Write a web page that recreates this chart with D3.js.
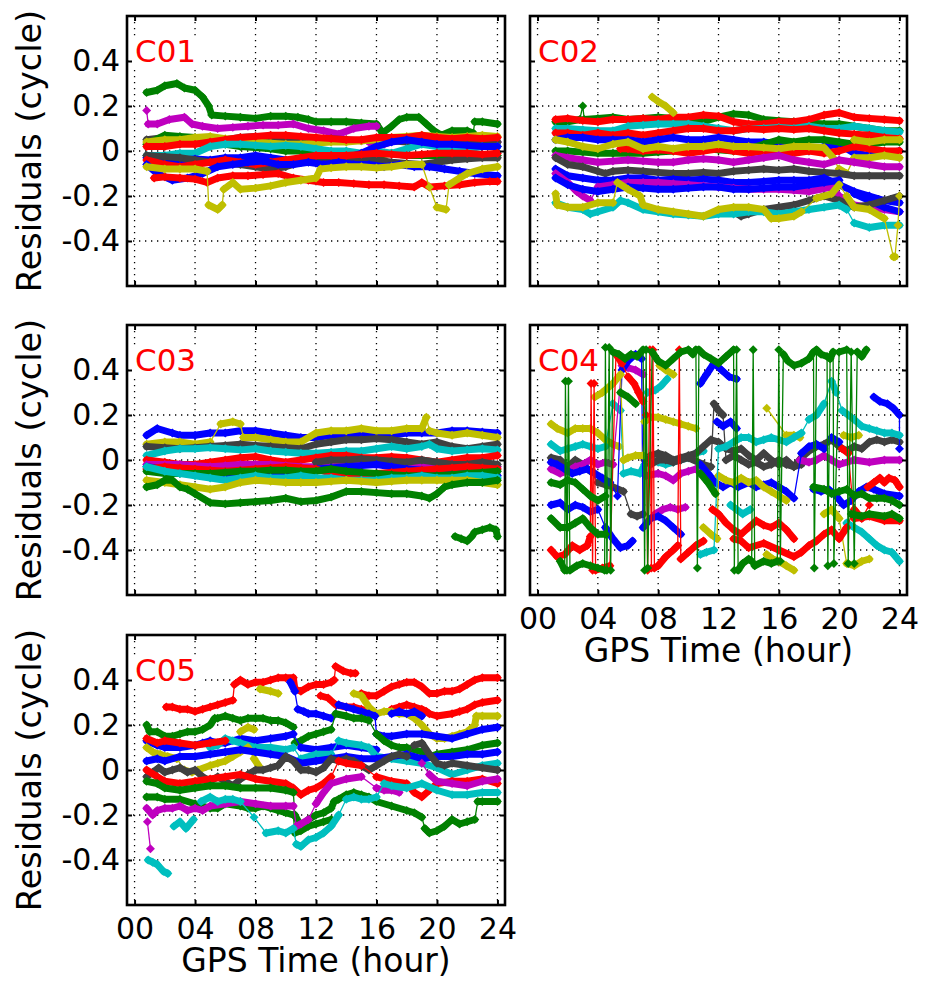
<!DOCTYPE html>
<html>
<head>
<meta charset="utf-8">
<script src="https://cdn.jsdelivr.net/npm/d3@7/dist/d3.min.js"></script>
<style>
  body { margin: 0; background: #fff; }
  svg { display: block; }
  text { font-family: "DejaVu Sans", Verdana, sans-serif; }
</style>
</head>
<body>
<svg id="fig" width="935" height="981"></svg>
<script>
// Axis ticks
const hourTicks = [0, 4, 8, 12, 16, 20, 24];
const hourLabels = ["00", "04", "08", "12", "16", "20", "24"];
const residualTicks = [-0.4, -0.2, 0, 0.2, 0.4];
const residualLabels = ["-0.4", "-0.2", "0", "0.2", "0.4"];

// Satellite colour codes
const lineColors = { b: "#0000ff", g: "#008000", r: "#ff0000", c: "#00bfbf", m: "#bf00bf", y: "#bfbf00", k: "#404040" };

// Residual series per satellite: [hour, residual in cycles]
const C01 = [
  { c: "g", p: [[0.8,0.26],[1.5,0.27],[2,0.29],[2.8,0.3],[3.3,0.28],[4,0.27],[4.5,0.24],[4.9,0.2],[5.1,0.16],[6,0.155],[7,0.15],[8,0.145],[9,0.155],[10,0.155],[10.8,0.15],[11.5,0.14],[12,0.13],[13,0.13],[14,0.13],[15,0.125],[16,0.12],[16.4,0.08],[17,0.11],[17.5,0.14],[18,0.15],[18.8,0.15],[19.3,0.12],[19.8,0.09],[20.3,0.07],[21,0.09],[22,0.09],[22.4,0.08],[22.5,0.13],[23,0.13],[24,0.12]] },
  { c: "m", p: [[0.8,0.18],[0.9,0.12],[1.5,0.12],[2.3,0.14],[3.3,0.15],[3.8,0.12],[4.5,0.11],[5.5,0.1],[6.5,0.105],[7.5,0.11],[8.5,0.115],[9.5,0.115],[10.5,0.12],[11.5,0.1],[12.5,0.09],[13.5,0.075],[14.5,0.1],[15.5,0.11],[16,0.11]] },
  { c: "m", p: [[15.5,0.04],[16.5,0.03],[17.5,0.05],[18.5,0.04],[19.5,0.03],[20.5,0.04],[21.5,0.05],[22.5,0.04],[24,0.04]] },
  { c: "k", p: [[0.8,0.05],[2,0.06],[3,0.055],[4,0.05],[5,0.045],[6,0.05],[7,0.06],[8,0.065],[9,0.06],[10,0.055],[11,0.05],[12,0.05],[13,0.055],[14,0.05],[15,0.045],[16,0.05],[17,0.045],[18,0.04],[19,0.05],[20,0.045],[21,0.04],[22,0.045],[23,0.04],[24,0.04]] },
  { c: "g", p: [[0.8,0.03],[2,0.07],[3,0.065],[4,0.06],[5,0.04],[6,0.03],[7,0.02],[8,0.015],[9,0.01],[10,0],[11,0],[12,-0.01],[13,-0.005],[14,-0.01],[15,-0.02],[16,-0.02],[17,-0.01],[18,-0.02],[19,-0.02],[20,-0.02],[21,-0.02],[22,-0.025],[23,-0.02],[24,-0.02]] },
  { c: "y", p: [[0.8,0.04],[2,0.05],[3,0.05],[4,0.06],[5,0.065],[6,0.055],[7,0.05],[8,0.04],[9,0.035],[10,0.03],[11,0.03],[12,0.035],[13,0.04],[14,0.04],[15,0.045],[16,0.05],[17,0.06],[18,0.065],[19,0.07],[20,0.065],[21,0.06],[22,0.065],[23,0.07],[24,0.065]] },
  { c: "r", p: [[0.8,0.02],[2,0.02],[3,0.03],[4,0.03],[5,0.04],[6,0.05],[7,0.06],[8,0.065],[9,0.07],[10,0.07],[11,0.065],[12,0.06],[13,0.055],[14,0.05],[15,0.05],[16,0.06],[17,0.06],[18,0.06],[19,0.07],[20,0.06],[21,0.055],[22,0.06],[23,0.055],[24,0.06]] },
  { c: "c", p: [[0.8,-0.02],[2,-0.02],[3,-0.01],[4,-0.01],[5,0.02],[6,0.03],[7,0.03],[8,0.025],[9,0.02],[10,0.025],[11,0.02],[12,0.01],[13,0],[14,0],[15,-0.01],[16,0],[17,-0.01],[18,0.01],[19,0.03],[20,0.02],[21,0],[22,0.01],[23,0.02],[24,0.02]] },
  { c: "b", p: [[0.8,-0.03],[2,-0.04],[3,-0.04],[4,-0.035],[5,-0.04],[6,-0.03],[7,-0.03],[8,-0.02],[9,-0.03],[10,-0.04],[11,-0.05],[12,-0.05],[13,-0.04],[14,-0.03],[15,-0.01],[16,0.02],[17,0.04],[18,0.05],[19,0.04],[20,0.03],[21,0.03],[22,0.025],[23,0.02],[24,0.02]] },
  { c: "k", p: [[0.8,-0.02],[2,-0.025],[3,-0.03],[4,-0.04],[5,-0.05],[6,-0.055],[7,-0.06],[8,-0.07],[9,-0.08],[10,-0.07],[11,-0.05],[12,-0.045],[13,-0.04],[14,-0.035],[15,-0.03],[16,-0.04],[17,-0.05],[18,-0.055],[19,-0.06],[20,-0.05],[21,-0.04],[22,-0.035],[23,-0.03],[24,-0.03]] },
  { c: "r", p: [[0.8,-0.04],[2,-0.06],[3,-0.07],[4,-0.06],[5,-0.05],[6,-0.04],[7,-0.05],[8,-0.06],[9,-0.05],[10,-0.04],[11,-0.03],[12,-0.02],[13,-0.02],[14,-0.02],[15,-0.015],[16,-0.01],[17,-0.015],[18,-0.02],[19,-0.015],[20,-0.01],[21,-0.01],[22,-0.01],[23,-0.015],[24,-0.01]] },
  { c: "b", p: [[0.8,-0.06],[1.5,-0.1],[2.5,-0.13],[3.5,-0.12],[4.5,-0.1],[5.5,-0.07],[6.5,-0.06],[7.5,-0.05],[8.5,-0.045],[9.5,-0.06],[10.5,-0.06],[11.5,-0.05],[12.5,-0.06],[13.5,-0.05],[14.5,-0.06],[15.5,-0.06],[16.5,-0.07],[17.5,-0.06],[18.5,-0.07],[19.5,-0.07],[20.5,-0.08],[21.5,-0.09],[22.5,-0.1],[24,-0.11]] },
  { c: "r", p: [[1.3,-0.12],[2,-0.115],[3,-0.12],[4,-0.125],[4.8,-0.14],[5.5,-0.12],[6.5,-0.11],[7.5,-0.11],[8.5,-0.105],[9.5,-0.1],[10.5,-0.12],[11.5,-0.13],[12.5,-0.14],[13.5,-0.14],[14.5,-0.145],[15.5,-0.15],[16.5,-0.15],[17.5,-0.155],[18.5,-0.16],[19,-0.14],[19.5,-0.16],[20.5,-0.155],[21.5,-0.15],[22.5,-0.14],[23.5,-0.135],[24,-0.135]] },
  { c: "y", p: [[0.8,-0.07],[2,-0.08],[3,-0.08],[4,-0.08],[4.8,-0.09],[4.9,-0.24],[5.5,-0.26],[5.8,-0.24],[5.9,-0.17],[6.5,-0.14],[7,-0.17],[8,-0.165],[9,-0.155],[10,-0.14],[11,-0.13],[12,-0.12],[12.3,-0.08],[13,-0.075],[14,-0.07],[15,-0.07],[16,-0.075],[17,-0.07],[18,-0.06],[19,-0.06],[19.5,-0.16],[20,-0.25],[20.6,-0.26],[20.8,-0.15],[21.5,-0.12],[22,-0.1],[23,-0.08],[24,-0.07]] }
];

const C02 = [
  { c: "g", p: [[1.2,0.13],[2,0.13],[2.8,0.14],[3,0.2],[3.1,0.14],[4,0.145],[5,0.15],[6,0.14],[7,0.145],[8,0.15],[9,0.145],[10,0.14],[11,0.13],[12,0.15],[13,0.165],[14,0.16],[15,0.14],[16,0.135],[17,0.13],[18,0.125],[19,0.12],[20,0.12],[21,0.11],[22,0.1],[23,0.09],[24,0.09]] },
  { c: "r", p: [[1.2,0.14],[2,0.145],[3,0.135],[4,0.13],[5,0.14],[6,0.14],[7,0.145],[8,0.14],[9,0.15],[10,0.15],[11,0.16],[12,0.155],[13,0.13],[14,0.12],[15,0.12],[16,0.13],[17,0.13],[18,0.14],[19,0.16],[20,0.17],[21,0.15],[22,0.145],[23,0.14],[24,0.135]] },
  { c: "c", p: [[1.2,0.1],[2,0.1],[3,0.095],[4,0.09],[5,0.09],[6,0.11],[7,0.115],[8,0.12],[9,0.12],[10,0.12],[11,0.11],[12,0.1],[13,0.09],[14,0.1],[15,0.1],[16,0.105],[17,0.1],[18,0.11],[19,0.1],[20,0.1],[21,0.11],[22,0.1],[23,0.09],[24,0.085]] },
  { c: "r", p: [[1.2,0.08],[2,0.08],[3,0.07],[4,0.08],[5,0.07],[6,0.08],[7,0.07],[8,0.08],[9,0.09],[10,0.1],[11,0.1],[12,0.09],[13,0.09],[14,0.1],[15,0.095],[16,0.1],[17,0.095],[18,0.1],[19,0.09],[20,0.08],[21,0.075],[22,0.07],[23,0.06],[24,0.055]] },
  { c: "b", p: [[1.2,0.05],[2,0.06],[3,0.06],[4,0.05],[5,0.05],[6,0.05],[7,0.04],[8,0.05],[9,0.06],[10,0.05],[11,0.05],[12,0.06],[13,0.05],[14,0.04],[15,0.04],[16,0.03],[17,0.01],[18,0],[19,0.02],[20,0.03],[21,-0.01],[22,-0.02],[23,-0.01],[24,0]] },
  { c: "g", p: [[1.2,0],[2,0],[3,-0.005],[4,-0.01],[5,-0.01],[6,-0.01],[7,-0.01],[8,-0.005],[9,0],[10,0.01],[11,0.01],[12,0.005],[13,0],[14,0.01],[15,0.03],[16,0.05],[17,0.04],[18,0.05],[19,0.05],[20,0.04],[21,0.03],[22,0.03],[23,0.04],[24,0.04]] },
  { c: "r", p: [[5.5,0.01],[6,0.01],[7,0],[8,0.005],[9,0],[10,-0.01],[11,0],[12,0.01],[13,0],[14,-0.01],[15,0],[16,0],[17,-0.01],[18,0],[19,-0.01],[20,0],[21,0.02],[22,0.01],[23,0],[24,0]] },
  { c: "y", p: [[1.2,0.05],[2,0.04],[3,0.02],[4,0.01],[5,0.03],[6,0.04],[7,0.01],[8,0.02],[9,0.01],[10,0.02],[11,0.02],[12,0.03],[13,0.02],[14,0.02],[15,0.015],[16,0.01],[17,0.02],[18,0.02],[19,0.015],[19.6,-0.03],[20,-0.08],[20.5,-0.1],[21,-0.03],[22,-0.03],[23,-0.02],[24,-0.03]] },
  { c: "y", p: [[21,0.05],[22,0.04],[23,0.05],[24,0.05]] },
  { c: "m", p: [[1.2,-0.02],[2,-0.03],[3,-0.04],[4,-0.05],[5,-0.045],[6,-0.04],[7,-0.045],[8,-0.05],[9,-0.05],[10,-0.04],[11,-0.035],[12,-0.04],[13,-0.05],[14,-0.04],[15,-0.03],[16,-0.02],[17,-0.04],[18,-0.05],[19,-0.06],[20,-0.04],[21,-0.05],[22,-0.06],[23,-0.07],[24,-0.07]] },
  { c: "k", p: [[1.2,-0.03],[2,-0.06],[3,-0.07],[4,-0.09],[4.5,-0.1],[5,-0.09],[6,-0.085],[7,-0.09],[8,-0.095],[9,-0.1],[10,-0.1],[11,-0.095],[12,-0.1],[13,-0.09],[14,-0.085],[15,-0.08],[16,-0.085],[17,-0.08],[18,-0.09],[19,-0.095],[20,-0.1],[21,-0.11],[22,-0.11],[23,-0.11],[24,-0.11]] },
  { c: "b", p: [[1.2,-0.08],[2,-0.11],[3,-0.12],[4,-0.13],[5,-0.13],[6,-0.12],[7,-0.12],[8,-0.13],[9,-0.125],[10,-0.13],[11,-0.125],[12,-0.13],[13,-0.14],[14,-0.14],[15,-0.135],[16,-0.13],[17,-0.13],[18,-0.13],[19,-0.12],[20,-0.15],[21,-0.18],[22,-0.2],[23,-0.22],[24,-0.23]] },
  { c: "m", p: [[1.2,-0.1],[2,-0.14],[2.6,-0.18],[3,-0.2],[3.5,-0.22],[4,-0.16],[5,-0.15],[6,-0.14],[7,-0.14],[8,-0.14],[9,-0.145],[10,-0.15],[11,-0.155],[12,-0.16],[13,-0.165],[14,-0.17],[15,-0.17],[16,-0.17],[17,-0.175],[18,-0.18],[19.5,-0.16],[20,-0.2],[21,-0.24],[22,-0.25],[23,-0.26],[24,-0.27]] },
  { c: "b", p: [[1.2,-0.12],[2,-0.15],[3,-0.17],[4,-0.18],[5,-0.17],[6,-0.16],[7,-0.165],[8,-0.17],[9,-0.17],[10,-0.165],[11,-0.16],[12,-0.16],[13,-0.17],[14,-0.17],[15,-0.165],[16,-0.16],[17,-0.16],[18,-0.15],[19,-0.14],[20,-0.13],[21,-0.19],[22,-0.22],[23,-0.25],[24,-0.27]] },
  { c: "k", p: [[13,-0.27],[13.5,-0.29],[14,-0.28],[15,-0.26],[16,-0.25],[17,-0.24],[18,-0.22],[19,-0.2],[20,-0.22],[21,-0.25],[22,-0.24],[23,-0.22],[24,-0.2]] },
  { c: "c", p: [[1.2,-0.23],[2,-0.25],[3,-0.26],[3.5,-0.28],[4,-0.27],[5,-0.25],[5.5,-0.22],[6,-0.23],[7,-0.26],[8,-0.27],[9,-0.28],[10,-0.285],[11,-0.29],[12,-0.28],[13,-0.28],[14,-0.27],[15,-0.27],[16,-0.28],[17,-0.27],[18,-0.26],[19,-0.25],[20,-0.24],[20.5,-0.26],[21,-0.32],[22,-0.34],[23,-0.33],[24,-0.33]] },
  { c: "y", p: [[1.2,-0.19],[1.3,-0.24],[2,-0.25],[3,-0.25],[4,-0.23],[5,-0.23],[5.3,-0.14],[6,-0.17],[6.8,-0.2],[7,-0.24],[8,-0.26],[9,-0.27],[10,-0.28],[11,-0.29],[12,-0.26],[13,-0.25],[14,-0.25],[15,-0.26],[15.5,-0.3],[16,-0.3],[17,-0.29],[17.5,-0.27],[18.5,-0.21],[19.5,-0.19],[20,-0.15],[20.5,-0.2],[21,-0.25],[22,-0.26],[23,-0.3],[23.6,-0.47],[23.7,-0.47],[23.9,-0.33],[24,-0.2]] },
  { c: "y", p: [[7.6,0.24],[8,0.22],[8.5,0.2],[9,0.17]] }
];

const C03 = [
  { c: "b", p: [[0.8,0.11],[1.5,0.14],[2.5,0.12],[3,0.11],[4,0.11],[5,0.12],[6,0.12],[7,0.13],[8,0.13],[9,0.12],[10,0.11],[11,0.1],[12,0.1],[13,0.11],[14,0.11],[15,0.12],[16,0.115],[17,0.11],[18,0.12],[19,0.12],[20,0.12],[21,0.13],[22,0.13],[23,0.125],[24,0.12]] },
  { c: "y", p: [[0.8,0.07],[2,0.08],[3,0.08],[4,0.07],[5,0.08],[5.7,0.16],[6.5,0.17],[7,0.16],[7.2,0.1],[8,0.1],[9,0.09],[10,0.08],[11,0.08],[12,0.12],[13,0.13],[14,0.13],[15,0.14],[16,0.13],[17,0.13],[18,0.14],[19,0.14],[19.3,0.19],[19.5,0.13],[20,0.12],[21,0.11],[22,0.12],[23,0.11],[24,0.1]] },
  { c: "k", p: [[0.8,0.06],[2,0.055],[3,0.05],[4,0.055],[5,0.06],[6,0.065],[7,0.07],[8,0.065],[9,0.06],[10,0.055],[11,0.05],[12,0.07],[13,0.08],[14,0.09],[15,0.09],[16,0.095],[17,0.09],[18,0.08],[19,0.07],[20,0.08],[21,0.06],[22,0.05],[23,0.06],[24,0.07]] },
  { c: "c", p: [[0.8,0.02],[2,0.04],[3,0.05],[4,0.05],[5,0.055],[6,0.05],[7,0.045],[8,0.05],[9,0.04],[10,0.035],[11,0.03],[12,0.03],[13,0.035],[14,0.04],[15,0.04],[16,0.05],[17,0.06],[18,0.05],[19,0.06],[19.5,0.07],[20,0.05],[21,0.04],[22,0.045],[23,0.05],[24,0.045]] },
  { c: "r", p: [[0.8,0],[2,-0.01],[3,-0.02],[4,-0.02],[5,-0.01],[6,0],[7,0.01],[8,0.015],[9,0],[10,-0.01],[11,0],[12,0.01],[13,0.02],[14,0.02],[15,0.01],[16,0.01],[17,0.015],[18,0.01],[19,0],[20,-0.01],[21,0],[22,0.01],[23,0.01],[24,0.02]] },
  { c: "m", p: [[0.8,-0.02],[2,-0.02],[3,-0.02],[4,-0.025],[5,-0.03],[6,-0.025],[7,-0.02],[8,-0.02],[9,-0.02],[10,-0.025],[11,-0.03],[12,-0.03],[13,-0.03],[14,-0.025],[15,-0.02],[16,-0.02],[17,-0.02],[18,-0.02],[19,-0.02],[20,-0.02],[21,-0.02],[22,-0.025],[23,-0.03],[24,-0.03]] },
  { c: "k", p: [[12,-0.01],[13,0],[14,0],[15,0.005],[16,0],[17,-0.005],[18,-0.01],[19,0],[20,-0.01],[21,-0.02],[22,-0.02],[23,-0.01],[24,-0.02]] },
  { c: "b", p: [[0.8,-0.03],[2,-0.04],[3,-0.045],[4,-0.05],[5,-0.055],[6,-0.06],[7,-0.055],[8,-0.05],[9,-0.055],[10,-0.06],[11,-0.05],[12,-0.04],[13,-0.035],[14,-0.03],[15,-0.025],[16,-0.02],[17,-0.03],[18,-0.04],[19,-0.045],[20,-0.05],[21,-0.055],[22,-0.06],[23,-0.065],[24,-0.07]] },
  { c: "r", p: [[0.8,-0.04],[2,-0.03],[3,-0.035],[4,-0.04],[5,-0.045],[6,-0.05],[7,-0.045],[8,-0.04],[9,-0.035],[10,-0.03],[11,-0.035],[12,-0.04],[13,-0.06],[14,-0.07],[15,-0.065],[16,-0.06],[17,-0.055],[18,-0.05],[19,-0.045],[20,-0.04],[21,-0.035],[22,-0.03],[23,-0.035],[24,-0.04]] },
  { c: "g", p: [[0.8,-0.05],[2,-0.06],[3,-0.06],[4,-0.06],[5,-0.06],[6,-0.055],[7,-0.05],[8,-0.05],[9,-0.045],[10,-0.045],[11,-0.05],[12,-0.05],[13,-0.04],[14,-0.05],[15,-0.055],[16,-0.06],[17,-0.065],[18,-0.07],[19,-0.07],[20,-0.07],[21,-0.065],[22,-0.06],[23,-0.055],[24,-0.05]] },
  { c: "c", p: [[0.8,-0.03],[2,-0.05],[3,-0.06],[4,-0.07],[5,-0.08],[6,-0.09],[7,-0.08],[8,-0.07],[9,-0.08],[10,-0.08],[11,-0.07],[12,-0.08],[13,-0.08],[14,-0.09],[15,-0.09],[16,-0.09],[17,-0.08],[18,-0.08],[19,-0.07],[20,-0.08],[21,-0.08],[22,-0.07],[23,-0.07],[24,-0.08]] },
  { c: "y", p: [[0.8,-0.09],[2,-0.1],[3,-0.11],[4,-0.12],[5,-0.13],[6,-0.12],[7,-0.1],[8,-0.09],[9,-0.095],[10,-0.1],[11,-0.1],[12,-0.1],[13,-0.095],[14,-0.09],[15,-0.095],[16,-0.1],[17,-0.095],[18,-0.09],[19,-0.09],[20,-0.09],[21,-0.09],[22,-0.09],[23,-0.1],[24,-0.11]] },
  { c: "g", p: [[0.8,-0.12],[1.5,-0.11],[2,-0.09],[2.5,-0.09],[3,-0.12],[3.5,-0.13],[4,-0.15],[5,-0.19],[6,-0.195],[7,-0.19],[8,-0.185],[9,-0.18],[10,-0.17],[11,-0.185],[12,-0.18],[13,-0.165],[14,-0.14],[15,-0.14],[16,-0.145],[17,-0.15],[18,-0.15],[19,-0.16],[19.5,-0.17],[20,-0.15],[20.5,-0.12],[21,-0.11],[22,-0.1],[23,-0.1],[24,-0.09]] },
  { c: "g", p: [[21.2,-0.34],[21.6,-0.35],[22,-0.36],[22.3,-0.34],[22.5,-0.32],[23,-0.31],[23.5,-0.3],[23.9,-0.31],[24,-0.34]] }
];

const C04 = [
  { c: "y", p: [[0.9,0.16],[1.3,0.14],[2,0.12],[2.5,0.14],[3,0.14],[3.5,0.14],[4,0.12],[4.5,0.09],[5,0.07],[5.4,0.06]] },
  { c: "c", p: [[0.9,0.07],[1.5,0.04],[2,0.05],[2.5,0.06],[3,0.07],[3.5,0.06],[4,0.05],[4.5,0.06],[5,0.25],[5.5,0.22],[5.7,-0.06],[6.2,-0.05],[6.8,-0.06],[7.1,-0.02],[7.5,0],[8,-0.01],[8.5,-0.02],[9,-0.01],[9.5,0],[10,0.01],[10.5,0.03],[11,0.04]] },
  { c: "k", p: [[0.9,0.01],[1.5,0],[2,-0.03],[2.5,0],[3,-0.02],[3.5,-0.05],[4,-0.1],[4.5,-0.11],[5,-0.12],[5.7,-0.14],[6.2,-0.24],[6.6,-0.25],[7,-0.24],[7.1,0],[7.5,0.02],[8,0.03],[8.5,0.02],[9,0],[9.5,0.01],[10,0.02],[10.5,0.03],[11,0.06],[11.5,0.09],[12,0.08],[12.5,0.05],[13,0.04],[13.5,0.05],[14,0.02],[14.5,0],[15,0.03],[15.5,0],[16,-0.02],[16.5,0],[17,-0.03],[17.5,0.01],[18,0.04],[18.5,0.06],[19,0.07],[19.5,0.09],[20,0.06],[20.5,0.04],[21,0.06],[21.5,0.05],[22,0.08],[22.5,0.09],[23,0.08],[23.5,0.09],[24,0.08]] },
  { c: "k", p: [[7.5,-0.02],[8,0],[8.5,0],[9,-0.01],[9.5,0],[10,0.01],[11,-0.02],[11.5,-0.03],[11.7,0.25],[12,0.22],[12.3,0.2],[12.5,0],[13,0.02],[13.5,0],[14,-0.02],[14.5,-0.01],[15,-0.03],[15.5,-0.02],[16,0],[16.5,-0.02],[17,-0.03],[17.5,-0.02]] },
  { c: "m", p: [[0.9,-0.04],[1.5,-0.06],[2,-0.05],[2.5,-0.03],[3,-0.02],[3.5,0],[4,-0.02],[4.5,-0.01],[5,-0.02],[5.6,0.42],[6,0.41],[6.5,0.4],[7,0.38],[7.2,-0.07],[8,-0.06],[8.5,-0.07],[9,-0.09],[9.5,-0.06],[10,-0.05],[10.5,-0.04]] },
  { c: "m", p: [[7.8,-0.24],[8.3,-0.22],[8.8,-0.21],[9.3,-0.22],[9.8,-0.21]] },
  { c: "m", p: [[17.4,0],[18,-0.01],[18.5,0],[19,0.02],[19.5,0],[20,-0.02],[21,0],[22,-0.01],[23,0],[24,0]] },
  { c: "b", p: [[0.9,-0.01],[1.3,-0.02],[1.8,-0.04],[2.3,-0.06],[2.8,-0.05],[3.3,-0.04],[3.8,-0.06],[4.3,-0.08],[4.8,-0.1],[5.3,-0.16],[5.6,0.4],[6,0.44],[6.5,0.47],[6.9,0.45],[7,-0.3],[7.5,-0.26],[8,-0.25],[8.5,-0.27],[9,-0.3],[9.5,-0.33]] },
  { c: "b", p: [[0.9,-0.2],[1.5,-0.19],[2,-0.22],[2.5,-0.2],[3,-0.21],[3.5,-0.23],[4,-0.22],[4.5,-0.3],[5,-0.35],[5.5,-0.39],[6,-0.38],[6.3,-0.36]] },
  { c: "b", p: [[10.8,0.34],[11.2,0.38],[11.7,0.43],[12.2,0.4],[12.7,0.37],[13.2,0.36]] },
  { c: "b", p: [[11.9,0.17],[12.3,0.15],[12.8,0.17],[13.2,0.14]] },
  { c: "b", p: [[10.8,-0.02],[11.3,-0.06],[11.8,-0.1],[12.3,-0.12],[12.8,-0.1],[13.3,-0.12],[14,-0.1],[14.5,-0.12],[15,-0.11],[15.5,-0.1],[16,-0.12],[16.5,-0.14],[17,-0.17],[17.5,0.03],[18,0.06],[18.5,0.07],[19,0.05],[19.5,0.1],[20,0.08]] },
  { c: "b", p: [[18.3,-0.13],[18.8,-0.14],[19.3,-0.13],[19.8,-0.16],[20.3,-0.2],[20.8,-0.18],[21.3,-0.14],[21.8,-0.12],[22.3,-0.13],[23,-0.15],[24,-0.16]] },
  { c: "b", p: [[22.3,0.28],[22.7,0.26],[23.2,0.25],[23.6,0.23],[24,0.2],[24,0.05]] },
  { c: "y", p: [[3.8,0.28],[4.3,0.3],[5,0.34],[5.5,0.38],[5.7,0],[6,0.01],[6.5,0.02],[7,0.02],[7.1,0.17],[7.5,0.19],[8,0.19],[8.5,0.18],[9,0.17],[9.5,0.16],[10,0.15],[10.5,0.14]] },
  { c: "y", p: [[8.1,0.42],[8.5,0.4],[9,0.38]] },
  { c: "y", p: [[11,-0.3],[11.5,-0.33],[11.9,-0.35],[12,-0.07],[12.5,-0.09],[13,-0.1],[13.5,-0.08],[14,-0.1],[14.5,-0.09],[15,-0.12],[15.5,-0.14],[16,-0.16],[16.5,-0.18]] },
  { c: "y", p: [[15.2,0.23],[16.5,0.11],[17,0.11],[17.4,0.1]] },
  { c: "y", p: [[15.2,-0.42],[15.6,-0.44],[16,-0.45],[16.5,-0.47],[17,-0.49]] },
  { c: "y", p: [[19,-0.24],[19.5,-0.22],[20,-0.26],[20.5,-0.46],[21,-0.47],[21.5,-0.45],[22,-0.44]] },
  { c: "y", p: [[20.3,0.11],[20.8,0.1],[21.3,0.11]] },
  { c: "c", p: [[7.3,0.3],[7.8,0.31],[8.2,0.33],[8.6,0.36]] },
  { c: "c", p: [[10.8,-0.42],[11.2,-0.41],[11.7,-0.4],[12,0.05],[12.5,0.06],[13,0.08],[13.5,0.1],[14,0.1],[14.5,0.08],[15,0.09],[15.5,0.1],[16,0.09],[16.5,0.08],[17,0.1],[17.5,0.12],[18,0.18],[18.5,0.2],[19,0.25],[19.5,0.35],[19.8,0.3],[20.2,0.22],[20.6,0.2],[21,0.18],[21.5,0.15],[22,0.14],[22.5,0.13],[23,0.12],[23.5,0.12],[24,0.11]] },
  { c: "c", p: [[12.8,-0.2],[13.2,-0.22],[13.6,-0.24],[14.1,-0.22]] },
  { c: "c", p: [[20.5,-0.28],[21,-0.3],[21.5,-0.32],[22,-0.35],[22.5,-0.38],[23,-0.4],[23.5,-0.41],[24,-0.45]] },
  { c: "r", p: [[0.9,-0.4],[1.3,-0.43],[1.8,-0.42],[2.3,-0.38],[2.8,-0.4],[3.3,-0.38],[3.5,-0.34],[3.55,0.34],[3.65,-0.49],[3.75,0.34],[3.85,-0.49],[4.3,-0.48],[4.8,-0.47],[5.2,0.47],[5.6,0.43],[6,0.37],[6.4,0.34],[6.7,0.3],[7,0.26],[7.2,0.2],[7.3,-0.49],[7.45,0.49],[7.55,-0.48],[7.65,0.49],[7.75,-0.48],[8,-0.47],[8.5,-0.43],[9,-0.4],[9.3,-0.38],[9.4,0.49],[9.5,-0.44],[10,-0.41],[10.5,-0.38],[11,-0.36]] },
  { c: "r", p: [[11.6,-0.22],[12,-0.24],[12.5,-0.28],[13,-0.31],[13.5,-0.33],[14,-0.3],[14.5,-0.27],[15,-0.29],[15.5,-0.3],[16,-0.28],[16.5,-0.31],[17,-0.35]] },
  { c: "r", p: [[13,-0.35],[13.5,-0.36],[14,-0.39],[15,-0.37],[16,-0.4],[17,-0.43],[17.5,-0.41],[18,-0.38],[18.5,-0.36],[19,-0.33],[19.5,-0.31],[20,-0.35],[20.5,-0.3],[21,-0.22],[21.5,-0.26],[22,-0.2]] },
  { c: "r", p: [[20.2,0.05],[20.6,0.03],[21,-0.26],[22,-0.25],[23,-0.27],[24,-0.27]] },
  { c: "r", p: [[21.9,-0.12],[22.3,-0.1],[22.7,-0.08],[23,-0.1],[23.3,-0.08],[23.7,-0.09],[24,-0.12]] },
  { c: "g", p: [[0.9,-0.1],[1.5,-0.11],[2,-0.09],[2.5,-0.1],[3,-0.13],[3.5,-0.16],[4,-0.18],[4.5,-0.16]] },
  { c: "g", p: [[0.9,-0.26],[1.5,-0.3],[2,-0.3],[2.5,-0.28],[3,-0.26],[3.5,-0.3],[4,-0.33],[4.5,-0.33]] },
  { c: "g", p: [[5.5,0.3],[6,0.28],[6.5,0.25]] },
  { c: "g", p: [[10.8,-0.06],[11.3,-0.1],[11.8,-0.15]] },
  { c: "g", p: [[18.3,-0.12],[19,-0.13],[19.5,-0.15],[20,-0.14],[20.5,-0.13],[21,-0.16],[21.5,-0.15],[22,-0.17],[22.5,-0.17],[23,-0.17],[23.5,-0.18],[24,-0.2]] },
  { c: "g", p: [[20.8,-0.24],[21.5,-0.25],[22,-0.24],[23,-0.25],[23.5,-0.24],[24,-0.26]] },
  { c: "g", p: [[1.5,-0.45],[1.8,-0.49],[1.85,0.35],[1.95,-0.49],[2.05,0.35],[2.15,-0.49],[2.6,-0.47],[3,-0.46],[3.5,-0.47],[4,-0.48],[4.45,-0.49],[4.5,0.5],[4.6,-0.49],[4.75,0.5],[4.85,-0.49],[5,0.48],[5.4,0.47],[5.8,0.45],[6.2,0.47],[6.6,0.46],[7,0.49],[7.1,-0.49],[7.2,0.49],[7.3,-0.48],[7.6,0.48],[8,0.44],[8.5,0.42],[9,0.45],[9.5,0.48],[10,0.49],[10.3,0.47],[10.5,0.49],[10.6,-0.48],[10.7,0.49],[11,0.47],[11.5,0.45],[12,0.43],[12.5,0.46],[13,0.49],[13.05,-0.49],[13.2,0.49],[13.3,-0.49],[13.6,-0.46],[14,-0.44],[14.2,-0.45],[14.3,0.49],[14.4,-0.47],[15,-0.45],[15.5,-0.46],[15.9,-0.45],[16,0.49],[16.1,-0.45],[16.3,0.47],[16.6,0.44],[17,0.42],[17.5,0.43],[18,0.45],[18.3,0.48],[18.35,-0.48],[18.5,0.49],[18.8,0.47],[19.2,0.46],[19.25,-0.47],[19.4,0.45],[19.6,0.48],[19.65,-0.46],[20,0.48],[20.5,0.49],[20.6,-0.46],[20.8,0.48],[21,-0.46],[21.2,0.48],[21.5,0.46],[21.8,0.49]] }
];

const C05 = [
  { c: "r", p: [[2.1,0.28],[2.5,0.28],[3,0.27],[3.5,0.27],[4,0.26],[4.5,0.27],[5,0.28],[5.5,0.29],[6,0.3],[6.5,0.31],[6.6,0.38],[7,0.4],[7.5,0.38],[8,0.39],[8.5,0.39],[9,0.4],[9.5,0.41],[10,0.41],[10.5,0.41],[10.6,0.36],[11,0.35],[11.5,0.37],[12,0.38],[12.5,0.38],[13,0.39],[13.2,0.4],[13.3,0.46],[13.8,0.44],[14.3,0.43],[14.6,0.43]] },
  { c: "r", p: [[15,0.34],[15.5,0.33],[16,0.33],[16.5,0.35],[17,0.37],[17.5,0.38],[18,0.39],[18.5,0.39],[19,0.37],[19.5,0.34],[20,0.34],[20.5,0.35],[21,0.35],[21.5,0.36],[22,0.38],[22.5,0.4],[23,0.41],[24,0.41]] },
  { c: "r", p: [[12.3,0.33],[12.8,0.32],[13.3,0.29],[14,0.28],[14.5,0.28],[15,0.27],[15.5,0.26]] },
  { c: "r", p: [[17,0.27],[17.5,0.28],[18,0.29],[18.5,0.28],[19,0.27],[19.3,0.26],[19.5,0.25],[20,0.24],[21,0.25],[21.5,0.26],[22,0.27],[22.5,0.29],[23,0.3],[24,0.31]] },
  { c: "y", p: [[8.3,0.36],[9,0.35],[9.5,0.34]] },
  { c: "y", p: [[14.5,0.34],[15,0.33],[15.5,0.28],[16,0.25],[16.5,0.26],[17,0.26],[17.5,0.25],[18,0.25],[18.5,0.23],[19,0.2],[19.5,0.16],[20,0.14],[20.5,0.14],[21,0.15],[21.5,0.16],[22,0.17],[22.5,0.2],[22.6,0.24],[23,0.24],[24,0.24]] },
  { c: "b", p: [[10.3,0.39],[10.6,0.35],[10.8,0.27],[11.2,0.26],[11.5,0.25],[12,0.25],[12.5,0.24],[13,0.23],[13.5,0.29],[14,0.28],[14.5,0.27],[15,0.26],[15.5,0.25],[15.9,0.24],[16,0.16],[16.5,0.15],[17,0.15],[18,0.16],[19,0.16],[20,0.15],[21,0.14],[22,0.16],[23,0.18],[24,0.19]] },
  { c: "b", p: [[17,0.25],[17.5,0.26],[18,0.25],[18.5,0.26],[19,0.24]] },
  { c: "g", p: [[0.8,0.2],[1,0.17],[1.5,0.17],[2,0.15],[2.5,0.15],[3,0.16],[3.5,0.17],[4,0.17],[4.5,0.18],[5,0.2],[5.3,0.23],[5.5,0.23],[6,0.24],[6.5,0.23],[7,0.22],[7.5,0.23],[8,0.23],[8.5,0.23],[9,0.22],[9.5,0.22],[10,0.21],[10.5,0.19],[10.6,0.12],[11,0.13],[11.5,0.15],[12,0.16],[12.5,0.17],[13,0.18],[13.3,0.25],[14,0.24],[14.5,0.23],[15,0.23],[15.5,0.22],[16,0.16],[16.5,0.13],[17,0.11],[17.5,0.1],[18,0.1],[18.5,0.09],[19,0.08],[19.5,0.06],[20,0.07],[21,0.08],[22,0.09],[23,0.11],[24,0.12]] },
  { c: "b", p: [[0.8,0.13],[1.5,0.11],[2,0.1],[3,0.1],[4,0.11],[4.5,0.12],[5,0.13],[5.5,0.12],[6,0.12],[7,0.14],[8,0.13],[9,0.14],[10,0.15],[10.5,0.16],[11,0.1],[12,0.09],[13,0.1],[14,0.11],[15,0.1],[16,0.09]] },
  { c: "c", p: [[5,0.1],[5.5,0.11],[6,0.14],[6.5,0.13],[7,0.12],[8,0.1],[9,0.1],[10,0.09],[10.5,0.1],[11,0.05],[12,0.07],[13,0.07],[13.5,0.13],[14,0.12],[15,0.11],[15.5,0.1],[16,0.06],[17,0.05],[18,0.04],[19,0.03],[20,0.01],[21,-0.02],[22,0],[23,0.02],[24,0.03]] },
  { c: "y", p: [[0.8,0.1],[1.2,0.08],[1.7,0.07],[2.2,0.06],[2.8,0.05],[3.3,0],[3.8,-0.01],[4.2,0],[5,0.02],[5.5,0.03],[6,0.04],[6.5,0.06],[7,0.08],[7.5,0.1],[7.9,0.05],[8.2,0.02]] },
  { c: "y", p: [[7,0.17],[7.5,0.19],[7.9,0.18]] },
  { c: "r", p: [[0.8,0.14],[1.5,0.12],[2,0.13],[3,0.12],[4,0.11],[5,0.12],[6,0.13]] },
  { c: "b", p: [[0.8,0.04],[1.5,0.05],[2,0.04],[3,0.06],[4,0.06],[5,0.07],[6,0.08],[7,0.09],[8,0.08],[9,0.07],[10,0.06],[11,0.03],[12,0.04],[13,0.05],[14,0.06],[15,0.05],[16,0.05],[17,0.06],[18,0.07],[19,0.05],[20,0.06],[21,0.06],[22,0.07],[23,0.07],[24,0.08]] },
  { c: "k", p: [[0.8,-0.03],[1.2,-0.01],[1.6,0.01],[2,-0.01],[2.5,0],[3,0.01],[3.5,-0.01],[4,0],[4.5,-0.03],[5,-0.05],[5.5,-0.03],[6,-0.05],[6.5,-0.07],[7,-0.04],[7.5,-0.02],[8,0],[8.5,0],[9,0.01],[9.5,0.02],[10,0.06],[10.5,0.04],[11,0],[11.5,0],[12,-0.01],[12.5,0.01],[13,0.05],[13.5,0.04],[14,0.05],[14.5,0.04],[15,0.02],[15.5,0],[16,0.02],[16.5,0.04],[17,0.06],[17.5,0.07],[18,0.06],[18.5,0.11],[19,0.12],[19.5,0.07],[20,0.03],[20.5,0.02],[21,0.03],[22,0.02],[23,0.01],[24,0]] },
  { c: "r", p: [[0.8,0],[1.5,-0.03],[2,-0.05],[3,-0.06],[4,-0.05],[5,-0.04],[6,-0.03],[7,-0.02],[8,-0.04],[9,-0.05],[10,-0.06],[10.5,-0.08],[11,-0.11],[11.5,-0.09],[12,-0.08],[12.5,-0.06],[13,-0.03],[13.5,0.04],[14,0.03],[15,0.02],[16,-0.03],[17,-0.05],[18,-0.06],[18.5,-0.1],[19,-0.12],[19.5,-0.09],[20,-0.06],[21,-0.05],[22,-0.05],[23,-0.04],[24,-0.06]] },
  { c: "g", p: [[0.8,-0.05],[1.5,-0.06],[2,-0.08],[3,-0.09],[4,-0.08],[5,-0.07],[6,-0.07],[7,-0.08],[8,-0.08],[9,-0.08],[10,-0.09],[10.5,-0.1],[10.6,-0.2],[11,-0.25],[11.5,-0.22],[12,-0.2],[12.5,-0.19],[13,-0.17],[13.2,-0.14],[13.5,-0.13],[14,-0.11],[14.5,-0.1],[15,-0.11],[15.5,-0.12],[16,-0.14],[17,-0.16],[18,-0.18],[18.5,-0.19],[19,-0.21],[19.2,-0.26],[19.5,-0.28],[20,-0.27],[20.5,-0.25],[21,-0.22],[21.5,-0.24],[22,-0.23],[22.5,-0.22],[22.7,-0.14],[23,-0.14],[24,-0.14]] },
  { c: "g", p: [[0.8,-0.12],[1.5,-0.12],[2,-0.13],[3,-0.13],[4,-0.15],[4.5,-0.16],[5,-0.17],[5.5,-0.17],[6,-0.15],[7,-0.16],[7.5,-0.17],[8,-0.17],[8.5,-0.16],[9,-0.17],[9.5,-0.18],[10,-0.19],[10.5,-0.2],[10.6,-0.28],[11,-0.27],[11.5,-0.25],[12,-0.24],[12.5,-0.23],[13,-0.22]] },
  { c: "m", p: [[0.8,-0.17],[1.2,-0.2],[1.5,-0.18],[2,-0.17],[2.5,-0.17],[3,-0.16],[3.5,-0.18],[4,-0.17],[4.5,-0.18],[5,-0.16],[6,-0.15],[7,-0.14],[8,-0.15],[9,-0.16],[10,-0.16],[10.5,-0.16],[10.7,-0.25],[11,-0.24],[11.5,-0.22],[12,-0.15],[12.5,-0.1],[13,-0.06],[14,-0.04],[15,-0.03],[16,-0.08],[16.5,-0.09],[17,-0.09],[17.5,-0.1]] },
  { c: "m", p: [[19,0.03],[19.5,-0.02],[20,-0.05],[21,-0.06],[22,-0.07],[23,-0.05],[24,-0.04]] },
  { c: "m", p: [[0.85,-0.23],[1.05,-0.35]] },
  { c: "c", p: [[2.6,-0.25],[3,-0.23],[3.4,-0.26],[3.9,-0.22]] },
  { c: "c", p: [[0.9,-0.4],[1.2,-0.41],[1.5,-0.42],[1.9,-0.45],[2.2,-0.46]] },
  { c: "c", p: [[4.4,-0.14],[5,-0.12],[5.5,-0.14],[6,-0.13],[6.5,-0.13],[7,-0.14],[7.9,-0.21],[8.7,-0.28],[9.5,-0.27],[10,-0.28],[10.5,-0.26],[10.7,-0.33],[11,-0.34],[11.5,-0.31],[12,-0.3],[12.5,-0.28],[13,-0.25],[13.5,-0.2],[14,-0.13],[14.5,-0.12],[15,-0.13],[15.5,-0.13],[16,-0.12],[16.5,-0.06],[17,-0.07],[18,-0.08],[19,-0.06],[20,-0.09],[21,-0.11],[22,-0.11],[23,-0.1],[24,-0.1]] }
];

// Panel layout: frame edges in pixels
const panels = [
  { name: "C01", data: C01, box: [127, 505, 16, 286], yLab: true,  xLab: false },
  { name: "C02", data: C02, box: [530, 907, 16, 286], yLab: false, xLab: false },
  { name: "C03", data: C03, box: [127, 505, 325, 595], yLab: true,  xLab: false },
  { name: "C04", data: C04, box: [530, 907, 325, 595], yLab: false, xLab: true },
  { name: "C05", data: C05, box: [127, 505, 635, 905], yLab: true,  xLab: true }
];

const svg = d3.select("#fig");
const defs = svg.append("defs");
const diamond = d3.symbol().type(d3.symbolSquare).size(40);

panels.forEach(panel => {
  const [x0, x1, y0, y1] = panel.box;
  const x = d3.scaleLinear().domain([-0.5, 24.5]).range([x0, x1]);
  const y = d3.scaleLinear().domain([-0.6, 0.6]).range([y1, y0]);
  const g = svg.append("g");

  defs.append("clipPath").attr("id", "clip-" + panel.name)
    .append("rect").attr("x", x0).attr("y", y0).attr("width", x1 - x0).attr("height", y1 - y0);

  // dotted grid
  const grid = g.append("g").attr("stroke", "#000").attr("stroke-width", 1.3).attr("stroke-dasharray", "1.3,4.7");
  grid.selectAll("line.v").data(hourTicks).join("line").attr("class", "v")
    .attr("x1", d => x(d)).attr("x2", d => x(d)).attr("y1", y0).attr("y2", y1);
  grid.selectAll("line.h").data(residualTicks).join("line").attr("class", "h")
    .attr("x1", x0).attr("x2", x1).attr("y1", d => y(d)).attr("y2", d => y(d));

  // white patch behind the satellite name
  g.append("rect").attr("x", x0 + 5).attr("y", y0 + 20).attr("width", 70).attr("height", 30).attr("fill", "#fff");

  const plot = g.append("g").attr("clip-path", `url(#clip-${panel.name})`);
  const line = d3.line().x(d => x(d[0])).y(d => y(d[1]));

  panel.data.forEach(s => {
    const col = lineColors[s.c];
    const sg = plot.append("g");
    // thin connecting line through all samples
    sg.append("path").attr("d", line(s.p)).attr("fill", "none").attr("stroke", col).attr("stroke-width", 1.3);
    // thick band over continuous stretches
    const runs = [];
    let run = [s.p[0]];
    for (let i = 1; i < s.p.length; i++) {
      const a = s.p[i - 1], b = s.p[i];
      if (Math.abs(b[1] - a[1]) < 0.05 && b[0] - a[0] <= 2.1) run.push(b);
      else { runs.push(run); run = [b]; }
    }
    runs.push(run);
    sg.selectAll("path.band").data(runs.filter(r => r.length > 1)).join("path").attr("class", "band")
      .attr("d", line).attr("fill", "none").attr("stroke", col).attr("stroke-width", 7)
      .attr("stroke-linejoin", "round").attr("stroke-linecap", "round");
    // diamond markers
    sg.selectAll("path.mk").data(s.p).join("path").attr("class", "mk")
      .attr("d", diamond)
      .attr("transform", d => `translate(${x(d[0])},${y(d[1])}) rotate(45)`)
      .attr("fill", col);
  });

  // inward ticks on all four sides
  const fmtY = (d, i) => panel.yLab ? residualLabels[i] : "";
  const fmtX = (d, i) => panel.xLab ? hourLabels[i] : "";
  const left = g.append("g").attr("transform", `translate(${x0},0)`)
    .call(d3.axisLeft(y).tickValues(residualTicks).tickSize(-5).tickPadding(7).tickFormat(fmtY));
  const right = g.append("g").attr("transform", `translate(${x1},0)`)
    .call(d3.axisRight(y).tickValues(residualTicks).tickSize(-5).tickFormat(""));
  const bottom = g.append("g").attr("transform", `translate(0,${y1})`)
    .call(d3.axisBottom(x).tickValues(hourTicks).tickSize(-5).tickPadding(13).tickFormat(fmtX));
  const top = g.append("g").attr("transform", `translate(0,${y0})`)
    .call(d3.axisTop(x).tickValues(hourTicks).tickSize(-5).tickFormat(""));
  [left, right, bottom, top].forEach(ax => {
    ax.select(".domain").remove();
    ax.selectAll(".tick line").attr("stroke", "#000").attr("stroke-width", 2);
    ax.selectAll("text").attr("font-size", 30).attr("fill", "#000")
      .attr("font-family", "'DejaVu Sans', Verdana, sans-serif");
  });

  // frame
  g.append("rect").attr("x", x0).attr("y", y0).attr("width", x1 - x0).attr("height", y1 - y0)
    .attr("fill", "none").attr("stroke", "#000").attr("stroke-width", 2.6);

  // satellite name
  g.append("text").attr("x", x0 + 8).attr("y", y0 + 46).attr("fill", "#ff0000")
    .attr("font-size", 31).text(panel.name);

  if (panel.yLab) {
    g.append("text").attr("transform", `translate(41,${(y0 + y1) / 2}) rotate(-90)`)
      .attr("text-anchor", "middle").attr("font-size", 33.5).attr("fill", "#000").text("Residuals (cycle)");
  }
  if (panel.xLab) {
    g.append("text").attr("x", (x0 + x1) / 2).attr("y", y1 + 67)
      .attr("text-anchor", "middle").attr("font-size", 33).attr("fill", "#000").text("GPS Time (hour)");
  }
});
</script>
</body>
</html>
